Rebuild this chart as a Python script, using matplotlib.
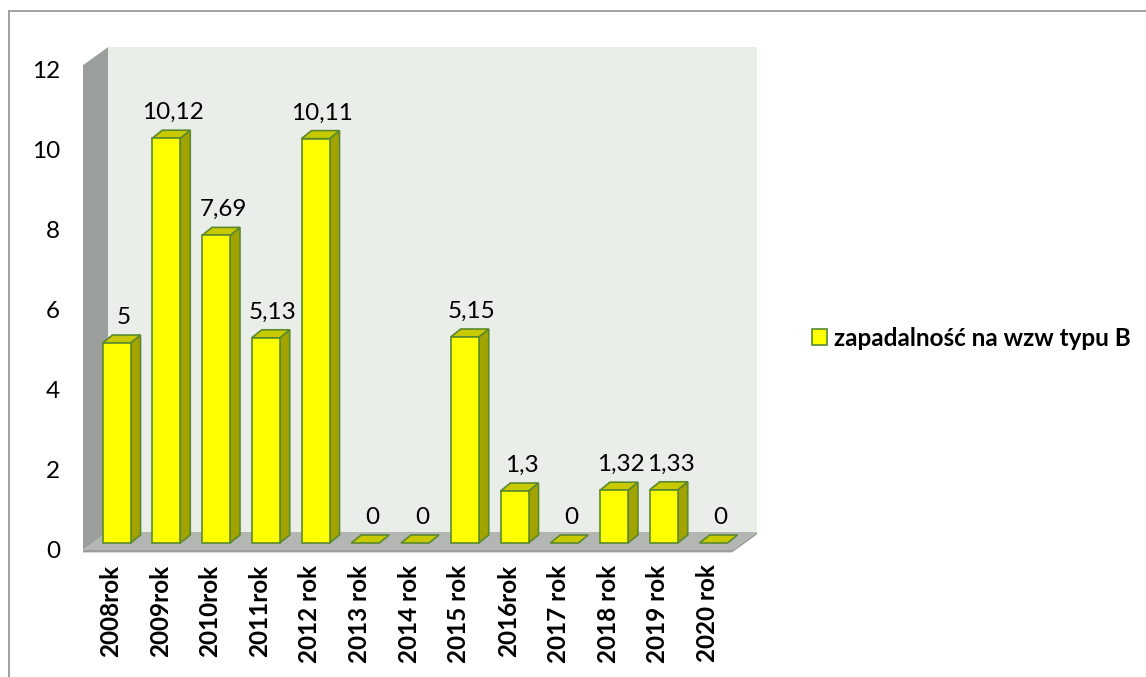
import matplotlib
matplotlib.use("Agg")
import matplotlib.pyplot as plt
from matplotlib.patches import Polygon, Patch
from matplotlib.lines import Line2D

# ---------------- data ----------------
categories = ["2008rok", "2009rok", "2010rok", "2011rok", "2012 rok", "2013 rok",
              "2014 rok", "2015 rok", "2016rok", "2017 rok", "2018 rok", "2019 rok",
              "2020 rok"]
values = [5, 10.12, 7.69, 5.13, 10.11, 0, 0, 5.15, 1.3, 0, 1.32, 1.33, 0]
value_labels = ["5", "10,12", "7,69", "5,13", "10,11", "0", "0", "5,15", "1,3",
                "0", "1,32", "1,33", "0"]
series_name = "zapadalność na wzw typu B"
yticks = [0, 2, 4, 6, 8, 10, 12]

# ---------------- style ----------------
plt.rcParams['font.family'] = ['Lato', 'DejaVu Sans']

FRONT = '#FFFF00'
TOP = '#C9C900'
SIDE = '#A3A300'
EDGE = '#5B8A2E'
BACKWALL = '#E9EEE9'
SIDEWALL = '#9B9F9B'
FLOOR = '#B3B6B2'
FLOOR_EDGE = '#9A9D99'

W, H = 1146, 677
fig = plt.figure(figsize=(W / 100, H / 100), dpi=100)

# axes: front plane; left px 83, right px 760, bottom py 550 (value 0), top py 70 (value 12)
ax = fig.add_axes([83 / W, 1 - 550 / H, (760 - 83) / W, 480 / H])
px_per_x = 49.75
x0_px = 116.5
ax.set_xlim((83 - x0_px) / px_per_x, (760 - x0_px) / px_per_x)
ax.set_ylim(0, 12)
ax.patch.set_visible(False)
for s in ax.spines.values():
    s.set_visible(False)

# depth offsets (data units)
WDX = 25 / px_per_x      # wall depth
WDY = 18 / 40
BDX = 10 / px_per_x      # bar depth
BDY = 8 / 40
BASE = 7 / 40            # bar base above front floor line
BW = 28 / px_per_x       # bar front width

xl = ax.get_xlim()[0]
x_floor_right = (732 - x0_px) / px_per_x
wall_top = 12.12

# back wall
ax.add_patch(Polygon([(xl + WDX, WDY), (x_floor_right + WDX, WDY),
                      (x_floor_right + WDX, wall_top + WDY), (xl + WDX, wall_top + WDY)],
                     closed=True, facecolor=BACKWALL, edgecolor='none', zorder=1, clip_on=False))
# left side wall
ax.add_patch(Polygon([(xl, 0), (xl, wall_top), (xl + WDX, wall_top + WDY), (xl + WDX, WDY)],
                     closed=True, facecolor=SIDEWALL, edgecolor='none', zorder=1.5, clip_on=False))
# floor
ax.add_patch(Polygon([(xl, 0), (x_floor_right, 0), (x_floor_right + WDX, WDY), (xl + WDX, WDY)],
                     closed=True, facecolor=FLOOR, edgecolor='none', zorder=1.6, clip_on=False))
ax.add_patch(Polygon([(xl, -0.06), (x_floor_right, -0.06), (x_floor_right + WDX, WDY - 0.06),
                      (x_floor_right + WDX, WDY), (x_floor_right, 0), (xl, 0)],
                     closed=True, facecolor=FLOOR_EDGE, edgecolor='none', zorder=1.55, clip_on=False))

xs = list(range(len(categories)))

# bars: side & top faces
for x, v in zip(xs, values):
    r = x + BW / 2
    l = x - BW / 2
    if v > 0:
        ax.add_patch(Polygon([(r, BASE), (r + BDX, BASE + BDY), (r + BDX, BASE + v + BDY), (r, BASE + v)],
                             closed=True, facecolor=SIDE, edgecolor=EDGE, linewidth=1.2,
                             zorder=3, clip_on=False))
    ax.add_patch(Polygon([(l, BASE + v), (r, BASE + v), (r + BDX, BASE + v + BDY), (l + BDX, BASE + v + BDY)],
                         closed=True, facecolor=TOP, edgecolor=EDGE, linewidth=1.2,
                         zorder=3, clip_on=False))

# bar front faces
nonzero_x = [x for x, v in zip(xs, values) if v > 0]
nonzero_v = [v for v in values if v > 0]
ax.bar(nonzero_x, nonzero_v, width=BW, bottom=BASE, color=FRONT, edgecolor=EDGE,
       linewidth=1.2, zorder=4, clip_on=False)

# value labels
for x, v, lab in zip(xs, values, value_labels):
    ax.text(x + 0.14, v + BASE + BDY + 0.28, lab, ha='center', va='baseline',
            fontsize=17.5, color='black', zorder=5)

# ticks
ax.set_yticks(yticks)
ax.set_yticklabels([str(t) for t in yticks])
ax.tick_params(axis='y', length=0, pad=16.5, labelsize=17.5, labelcolor='black')
ax.set_xticks([x - 0.12 for x in xs])
ax.set_xticklabels(categories, rotation=90, fontweight='bold', fontsize=17.5)
ax.tick_params(axis='x', length=0, pad=10.5, labelcolor='black')

# legend
fig.legend(handles=[Patch(facecolor=FRONT, edgecolor=EDGE, linewidth=1.2, label=series_name)],
           loc='center left', bbox_to_anchor=(812 / W, 1 - 338 / H), frameon=False,
           prop={'weight': 'bold', 'size': 17.5}, handlelength=0.62, handleheight=0.62,
           handletextpad=0.28, borderpad=0, borderaxespad=0)

# outer chart border
fig.add_artist(Line2D([9 / W, 9 / W], [0, 1 - 11 / H], transform=fig.transFigure,
                      color='#9A9A9A', linewidth=1.3))
fig.add_artist(Line2D([9 / W, 1], [1 - 11 / H, 1 - 11 / H], transform=fig.transFigure,
                      color='#9A9A9A', linewidth=1.3))

fig.savefig('out.png', dpi=100)
